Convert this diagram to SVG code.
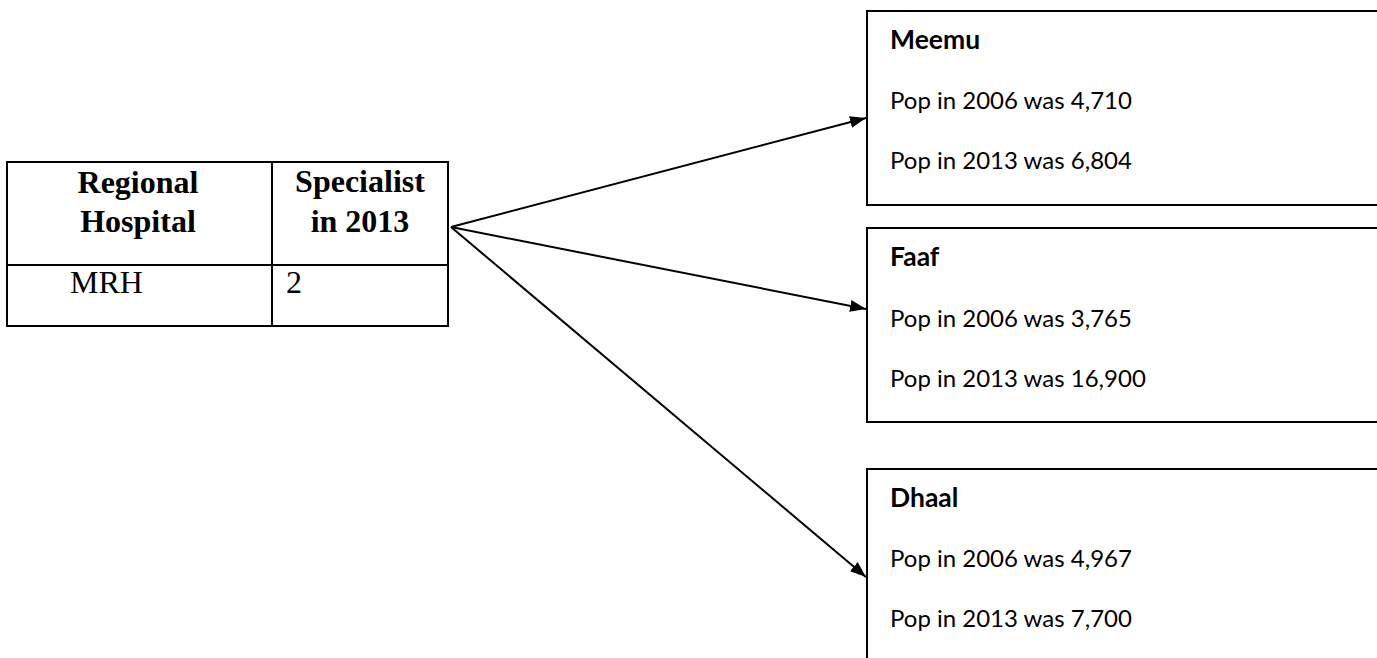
<svg xmlns="http://www.w3.org/2000/svg" width="1377" height="658" viewBox="0 0 1377 658">
<defs>
<marker id="ah" markerWidth="16" markerHeight="12" refX="16" refY="6" orient="auto" markerUnits="userSpaceOnUse">
<path d="M0,0 L16,6 L0,12 Z" fill="#000"/>
</marker>
<style>
.tb{font-family:"Liberation Serif","Times New Roman",serif;font-size:32px;font-weight:bold;fill:#000}
.tr{font-family:"Liberation Serif","Times New Roman",serif;font-size:32px;fill:#000}
.box{fill:#fff;stroke:#000;stroke-width:2}
.hd{font-family:Lato,"Noto Sans",sans-serif;font-size:26.5px;font-weight:bold;fill:#000}
.tx{font-family:Lato,"Noto Sans",sans-serif;font-size:24px;fill:#000}
.cn{stroke:#000;stroke-width:2;fill:none}
</style>
</defs>
<rect width="1377" height="658" fill="#fff"/>
<g id="table">
<rect x="7" y="162" width="441" height="164" fill="#fff" stroke="#000" stroke-width="2"/>
<line x1="272" y1="162" x2="272" y2="326" stroke="#000" stroke-width="2"/>
<line x1="7" y1="265" x2="448" y2="265" stroke="#000" stroke-width="2"/>
<text class="tb" x="138" y="193" text-anchor="middle">Regional</text>
<text class="tb" x="138" y="232" text-anchor="middle">Hospital</text>
<text class="tb" x="360" y="192" text-anchor="middle">Specialist</text>
<text class="tb" x="360" y="232" text-anchor="middle">in 2013</text>
<text class="tr" x="70" y="293">MRH</text>
<text class="tr" x="286" y="293">2</text>
</g>
<g id="meemu">
<rect class="box" x="867" y="11" width="520" height="194"/>
<text class="hd" x="890" y="49">Meemu</text>
<text class="tx" x="890" y="109">Pop in 2006 was 4,710</text>
<text class="tx" x="890" y="169">Pop in 2013 was 6,804</text>
</g>
<g id="faaf">
<rect class="box" x="867" y="228" width="520" height="194"/>
<text class="hd" x="890" y="266">Faaf</text>
<text class="tx" x="890" y="327">Pop in 2006 was 3,765</text>
<text class="tx" x="890" y="387">Pop in 2013 was 16,900</text>
</g>
<g id="dhaal">
<rect class="box" x="867" y="469" width="520" height="200"/>
<text class="hd" x="890" y="507">Dhaal</text>
<text class="tx" x="890" y="567">Pop in 2006 was 4,967</text>
<text class="tx" x="890" y="627">Pop in 2013 was 7,700</text>
</g>
<g id="connectors">
<line class="cn" x1="451" y1="227" x2="866" y2="118" marker-end="url(#ah)"/>
<line class="cn" x1="451" y1="227" x2="866" y2="309" marker-end="url(#ah)"/>
<line class="cn" x1="451" y1="227" x2="866" y2="577" marker-end="url(#ah)"/>
</g>
</svg>
